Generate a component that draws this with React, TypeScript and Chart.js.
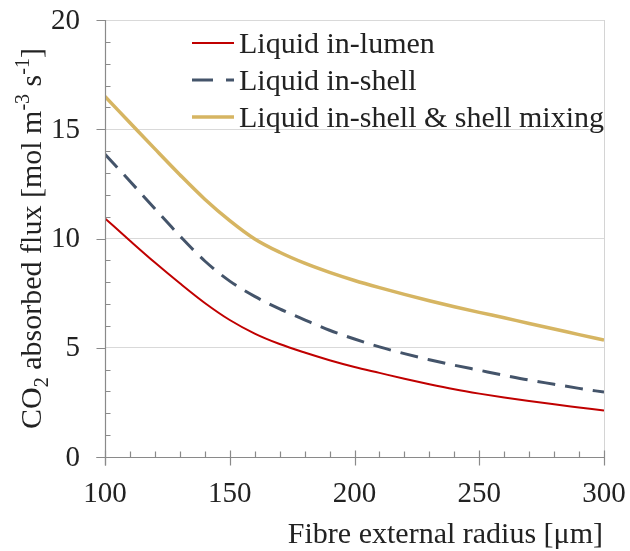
import React, { useEffect, useRef } from "react";
import { Chart, registerables } from "chart.js";

Chart.register(...registerables);

const radius = [100, 110, 120, 130, 140, 150, 160, 170, 180, 190, 200, 210, 220, 230, 240, 250, 260, 270, 280, 290, 300];
const liquidInLumen = [10.92, 9.9, 8.9, 7.95, 7.05, 6.27, 5.65, 5.17, 4.78, 4.43, 4.12, 3.85, 3.58, 3.33, 3.1, 2.9, 2.72, 2.56, 2.41, 2.27, 2.13];
const liquidInShell = [13.85, 12.62, 11.36, 10.12, 8.97, 8.05, 7.35, 6.78, 6.28, 5.8, 5.4, 5.04, 4.73, 4.45, 4.2, 3.97, 3.74, 3.52, 3.33, 3.14, 2.97];
const shellMixing = [16.5, 15.3, 14.1, 12.92, 11.8, 10.82, 9.98, 9.37, 8.87, 8.45, 8.08, 7.75, 7.44, 7.15, 6.88, 6.62, 6.37, 6.11, 5.86, 5.6, 5.35];

const seriesLabels = ["Liquid in-lumen", "Liquid in-shell", "Liquid in-shell & shell mixing"];
const seriesColors = ["#C00000", "#44546A", "#D6B562"];
const seriesWidths = [2, 3, 3.5];
const seriesDashes: number[][] = [[], [18, 10], []];

const xTickLabels = [100, 150, 200, 250, 300];
const yTickLabels = [0, 5, 10, 15, 20];
const xTitle = "Fibre external radius [μm]";

const FONT = "'Liberation Serif', 'Times New Roman', serif";
const AXIS = "#8a8a8a";

const customDraw = {
  id: "customDraw",
  afterDraw(chart: any) {
    const ctx = chart.ctx as CanvasRenderingContext2D;
    const area = chart.chartArea;
    const xs = chart.scales.x;
    const ys = chart.scales.y;
    ctx.save();

    // right border
    ctx.strokeStyle = "#d4d4d4";
    ctx.lineWidth = 1;
    ctx.beginPath();
    ctx.moveTo(Math.round(area.right) + 0.5, area.top);
    ctx.lineTo(Math.round(area.right) + 0.5, area.bottom);
    ctx.stroke();

    ctx.strokeStyle = AXIS;
    ctx.lineWidth = 1.2;
    const L = Math.round(area.left) + 0.5;
    const B = Math.round(area.bottom) + 0.5;
    // axis lines
    ctx.beginPath();
    ctx.moveTo(L, area.top);
    ctx.lineTo(L, B + 8);
    ctx.moveTo(L - 9, B);
    ctx.lineTo(area.right, B);
    ctx.stroke();

    // y ticks
    ctx.beginPath();
    for (let v = ys.min; v <= ys.max; v += 1) {
      const p = Math.round(ys.getPixelForValue(v)) + 0.5;
      if (v % 5 === 0) {
        ctx.moveTo(L - 9, p);
        ctx.lineTo(L, p);
      } else {
        ctx.moveTo(L, p);
        ctx.lineTo(L + 5, p);
      }
    }
    // x ticks
    for (let v = xs.min; v <= xs.max; v += 10) {
      const p = Math.round(xs.getPixelForValue(v)) + 0.5;
      if (v % 50 === 0) {
        ctx.moveTo(p, B - 7);
        ctx.lineTo(p, B + 8);
      } else {
        ctx.moveTo(p, B - 6);
        ctx.lineTo(p, B);
      }
    }
    ctx.stroke();

    // tick labels
    ctx.fillStyle = "#222";
    ctx.font = `29px ${FONT}`;
    ctx.textAlign = "right";
    ctx.textBaseline = "middle";
    yTickLabels.forEach((v) => {
      ctx.fillText(String(v), area.left - 25, ys.getPixelForValue(v) + 1);
    });
    ctx.textAlign = "center";
    ctx.textBaseline = "alphabetic";
    xTickLabels.forEach((v) => {
      ctx.fillText(String(v), xs.getPixelForValue(v), area.bottom + 45);
    });

    // x title
    ctx.font = `30px ${FONT}`;
    ctx.textAlign = "right";
    ctx.fillText(xTitle, area.right - 1, area.bottom + 86);

    // y title with sub/superscripts
    const big = 30;
    const small = 20;
    const parts: [string, number, number][] = [
      ["CO", big, 0],
      ["2", small, 7],
      [" absorbed flux [mol m", big, 0],
      ["-3", small, -12],
      [" s", big, 0],
      ["-1", small, -12],
      ["]", big, 0],
    ];
    let total = 0;
    parts.forEach(([t, s]) => {
      ctx.font = `${s}px ${FONT}`;
      total += ctx.measureText(t).width;
    });
    ctx.save();
    ctx.translate(41, (area.top + area.bottom) / 2);
    ctx.rotate(-Math.PI / 2);
    ctx.textAlign = "left";
    let cx = -total / 2;
    parts.forEach(([t, s, dy]) => {
      ctx.font = `${s}px ${FONT}`;
      ctx.fillText(t, cx, dy);
      cx += ctx.measureText(t).width;
    });
    ctx.restore();

    // legend
    ctx.font = `30px ${FONT}`;
    ctx.textAlign = "left";
    ctx.textBaseline = "alphabetic";
    chart.data.datasets.forEach((ds: any, i: number) => {
      const yc = 43 + i * 37;
      ctx.strokeStyle = ds.borderColor;
      ctx.lineWidth = ds.borderWidth;
      ctx.setLineDash(i === 1 ? [21, 13] : []);
      ctx.beginPath();
      ctx.moveTo(192, yc);
      ctx.lineTo(234, yc);
      ctx.stroke();
      ctx.setLineDash([]);
      ctx.fillStyle = "#222";
      ctx.fillText(ds.label, 239, yc + 10);
    });

    ctx.restore();
  },
};

export default function App() {
  const ref = useRef<HTMLCanvasElement>(null);
  useEffect(() => {
    if (!ref.current) return;
    const series = [liquidInLumen, liquidInShell, shellMixing];
    const chart = new Chart(ref.current, {
      type: "line",
      data: {
        datasets: series.map((vals, i) => ({
          label: seriesLabels[i],
          data: radius.map((x, j) => ({ x, y: vals[j] })),
          borderColor: seriesColors[i],
          backgroundColor: seriesColors[i],
          borderWidth: seriesWidths[i],
          borderDash: seriesDashes[i],
          pointRadius: 0,
          cubicInterpolationMode: "monotone" as const,
          fill: false,
        })),
      },
      options: {
        responsive: false,
        animation: false,
        devicePixelRatio: 1,
        layout: { padding: { left: 105, right: 26, top: 20, bottom: 94 } },
        plugins: { legend: { display: false }, tooltip: { enabled: false } },
        scales: {
          x: {
            type: "linear",
            min: 100,
            max: 300,
            grid: { display: false, drawTicks: false },
            border: { display: false },
            ticks: { display: false, stepSize: 50 },
          },
          y: {
            min: 0,
            max: 20,
            grid: { color: "#d9d9d9", lineWidth: 1, drawTicks: false },
            border: { display: false },
            ticks: { display: false, stepSize: 5 },
          },
        },
      },
      plugins: [customDraw],
    });
    return () => chart.destroy();
  }, []);
  return (
    <div style={{ position: "absolute", left: 0, top: 0, width: 630, height: 551, background: "#fff" }}>
      <canvas ref={ref} width={630} height={551} style={{ display: "block" }} />
    </div>
  );
}
